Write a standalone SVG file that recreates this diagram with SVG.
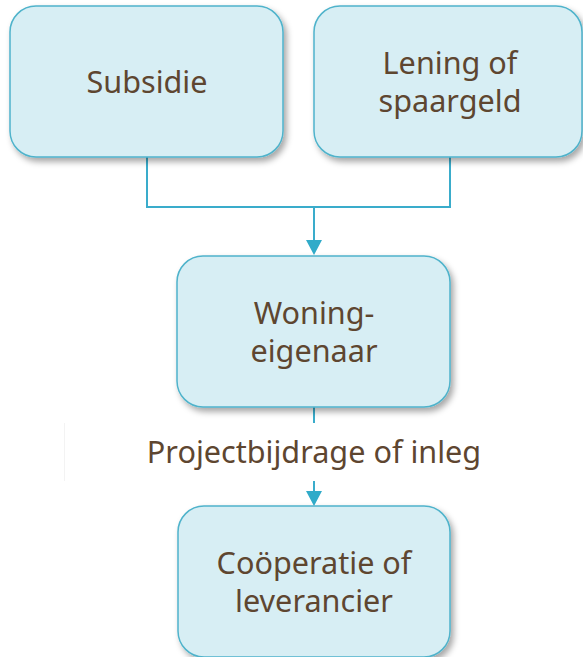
<svg xmlns="http://www.w3.org/2000/svg" width="583" height="657" viewBox="0 0 583 657">
<style>
.box{fill:#d7eef4;stroke:#4fb3cb;stroke-width:1.5;filter:url(#sh)}
.t{font-family:"Noto Sans","Open Sans",sans-serif;font-size:30.6px;fill:#5e4630;text-anchor:middle}
.c{fill:none;stroke:#3aaccb;stroke-width:2}
</style>
<defs>
<filter id="sh" x="-10%" y="-10%" width="130%" height="130%">
<feDropShadow dx="3" dy="4" stdDeviation="3" flood-color="#000" flood-opacity="0.35"/>
</filter>
</defs>
<rect width="583" height="657" fill="#fff"/>
<g id="connectors">
<path class="c" d="M147,157 V207 H450 V157"/>
<path class="c" d="M314,207 V240"/>
<path d="M306,240 L322,240 L314,255 Z" fill="#31abc9"/>
<path class="c" d="M314,407 V423"/>
<path d="M64.5,423 V481" stroke="#f3f3f3" stroke-width="1"/>
<text class="t" x="314" y="463">Projectbijdrage of inleg</text>
<path class="c" d="M314,481 V491"/>
<path d="M306,491 L322,491 L314,506 Z" fill="#31abc9"/>
</g>
<g id="subsidie">
<rect class="box" x="10" y="6" width="273" height="151" rx="26"/>
<text class="t" x="147" y="93">Subsidie</text>
</g>
<g id="lening">
<rect class="box" x="314" y="6" width="268" height="151" rx="26"/>
<text class="t" x="450" y="74">Lening of</text>
<text class="t" x="450" y="112">spaargeld</text>
</g>
<g id="woningeigenaar">
<rect class="box" x="177" y="256" width="273" height="151" rx="26"/>
<text class="t" x="314" y="324">Woning-</text>
<text class="t" x="314" y="362">eigenaar</text>
</g>
<g id="cooperatie">
<rect class="box" x="178" y="506" width="272" height="151" rx="26"/>
<text class="t" x="314" y="574">Coöperatie of</text>
<text class="t" x="314" y="612">leverancier</text>
</g>
</svg>
